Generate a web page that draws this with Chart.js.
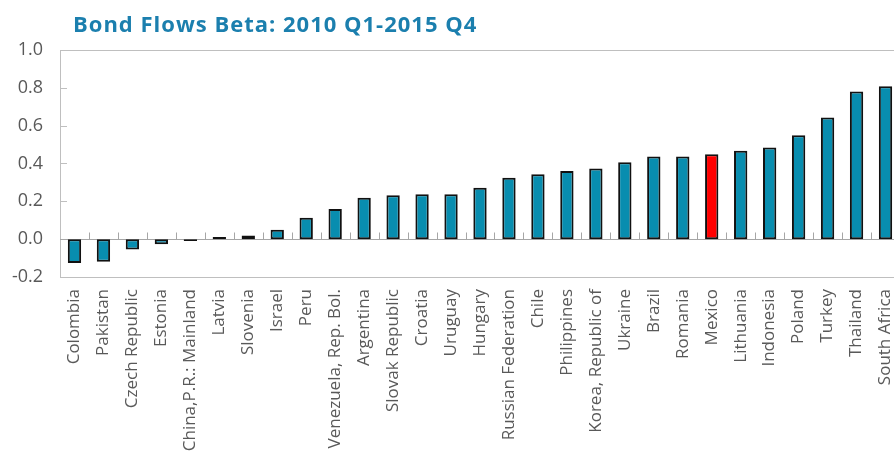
<!DOCTYPE html>
<html>
<head>
<meta charset="utf-8">
<script src="https://cdn.jsdelivr.net/npm/chart.js@4.4.1/dist/chart.umd.min.js"></script>
<style>
html,body{margin:0;padding:0;overflow:hidden;background:#fff;}
#wrap{width:900px;height:451px;}
</style>
</head>
<body>
<div id="wrap"><canvas id="c" width="900" height="451" style="width:900px;height:451px"></canvas></div>
<script>
const titleText = "Bond Flows Beta: 2010 Q1-2015 Q4";
const countries = ["Colombia","Pakistan","Czech Republic","Estonia","China,P.R.: Mainland","Latvia","Slovenia","Israel","Peru","Venezuela, Rep. Bol.","Argentina","Slovak Republic","Croatia","Uruguay","Hungary","Russian Federation","Chile","Philippines","Korea, Republic of","Ukraine","Brazil","Romania","Mexico","Lithuania","Indonesia","Poland","Turkey","Thailand","South Africa"];
const betaValues = [-0.126,-0.12,-0.055,-0.027,-0.01,0.012,0.02,0.05,0.113,0.159,0.219,0.232,0.237,0.237,0.272,0.325,0.343,0.361,0.373,0.407,0.437,0.437,0.449,0.467,0.484,0.55,0.643,0.78,0.808];
const highlighted = ["Mexico"];
const yTicks = [-0.2,0,0.2,0.4,0.6,0.8,1.0];

const BLUE = "#088DAF", RED = "#FF0000", GRAY = "#BFBFBF", TXT = "#595959";

const decor = {
  id: "decor",
  beforeDatasetsDraw(chart) {
    const {ctx, chartArea: a, scales: {x, y}} = chart;
    ctx.save();
    ctx.strokeStyle = GRAY; ctx.lineWidth = 1;
    ctx.strokeRect(Math.round(a.left) + 0.5, Math.round(a.top) + 0.5, Math.round(a.right - a.left), Math.round(a.bottom - a.top));
    yTicks.forEach(v => {
      const py = Math.round(y.getPixelForValue(v)) + 0.5;
      ctx.beginPath(); ctx.moveTo(a.left, py); ctx.lineTo(a.left + 7, py); ctx.stroke();
    });
    const zy = Math.round(y.getPixelForValue(0)) + 0.5;
    ctx.strokeStyle = "#A6A6A6";
    ctx.beginPath(); ctx.moveTo(a.left, zy); ctx.lineTo(a.right, zy); ctx.stroke();
    const n = countries.length;
    for (let i = 1; i < n; i++) {
      const px = Math.round((x.getPixelForValue(i - 1) + x.getPixelForValue(i)) / 2) + 0.5;
      ctx.beginPath(); ctx.moveTo(px, zy); ctx.lineTo(px, zy - 7); ctx.stroke();
    }
    ctx.restore();
  },
  afterDraw(chart) {
    const ctx = chart.ctx;
    ctx.save();
    ctx.fillStyle = "#1B7FAE";
    ctx.font = "bold 22px 'Open Sans'";
    try { ctx.letterSpacing = "1px"; } catch (e) {}
    ctx.textBaseline = "alphabetic";
    ctx.fillText(titleText, 73, 32);
    ctx.restore();
  }
};

new Chart(document.getElementById("c"), {
  type: "bar",
  data: {
    labels: countries,
    datasets: [{
      data: betaValues,
      backgroundColor: countries.map(c => highlighted.includes(c) ? RED : BLUE),
      borderColor: "#111111",
      borderWidth: 2,
      borderSkipped: false,
      barPercentage: 0.46,
      categoryPercentage: 1.0
    }]
  },
  options: {
    responsive: false,
    animation: false,
    layout: { padding: { top: 50, right: 0, left: 0, bottom: 0 } },
    plugins: { legend: { display: false }, tooltip: { enabled: false }, title: { display: false } },
    scales: {
      x: {
        offset: true,
        grid: { display: false, drawTicks: false },
        border: { display: false },
        ticks: {
          color: TXT, font: { family: "'Open Sans'", size: 17 },
          minRotation: 90, maxRotation: 90, padding: 12, autoSkip: false
        },
        afterFit(s) { s.height = 451 - 277; s.paddingLeft = 0; s.paddingRight = 0; }
      },
      y: {
        min: -0.2, max: 1.0,
        afterBuildTicks(s) { s.ticks = yTicks.map(v => ({ value: v })); },
        grid: { display: false, drawTicks: false },
        border: { display: false },
        ticks: {
          color: TXT, font: { family: "'Open Sans'", size: 18 }, padding: 17,
          callback: v => Number(v).toFixed(1)
        },
        afterFit(s) { s.width = 60; s.paddingTop = 0; s.paddingBottom = 0; }
      }
    }
  },
  plugins: [decor]
});
</script>
</body>
</html>
